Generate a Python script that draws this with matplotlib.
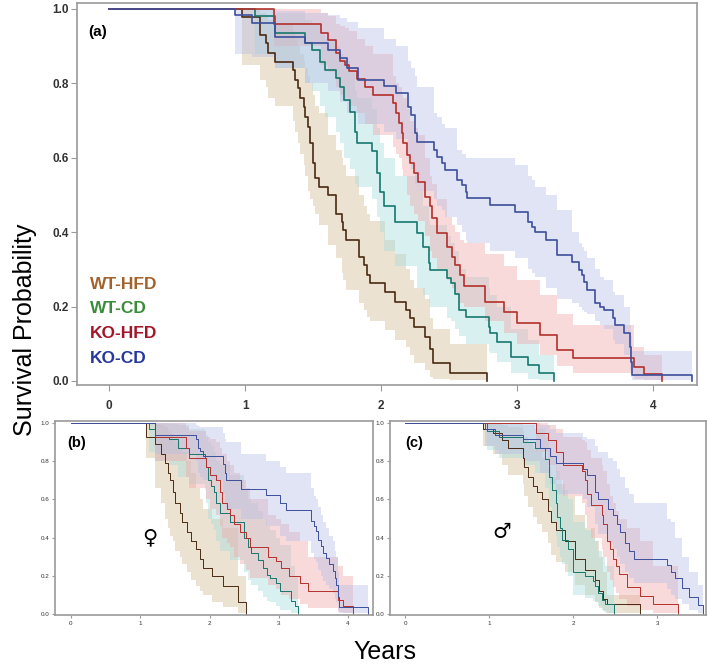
import numpy as np
import matplotlib
matplotlib.use("Agg")
import matplotlib.pyplot as plt

plt.rcParams['font.family'] = ['Liberation Sans', 'DejaVu Sans']

groups = ['WT-HFD', 'WT-CD', 'KO-HFD', 'KO-CD']
label_colors = ['#a3622b', '#3b8c3a', '#a3172b', '#27399a']
line_colors = ['#4a2a12', '#16776c', '#b3302c', '#3c4f9c']
band_colors = ['#d6c4a0', '#a6dcdc', '#f2a3a6', '#b8bfe6']
band_alpha = [0.48, 0.42, 0.4, 0.42]

# ---- panel (a): all mice ----
a_wthfd_t = [0, 0.975, 1.11, 1.15, 1.17, 1.22, 1.355, 1.37, 1.39, 1.40, 1.43, 1.44, 1.46, 1.48, 1.50, 1.515, 1.54, 1.61,
             1.67, 1.71, 1.72, 1.74, 1.84, 1.87, 1.895, 1.92, 2.03, 2.10, 2.18, 2.21, 2.24, 2.32, 2.36, 2.38, 2.507, 2.78]
a_wthfd_s = [1.0, 0.979, 0.93, 0.908, 0.881, 0.858, 0.836, 0.809, 0.787, 0.76, 0.737, 0.71, 0.683, 0.64, 0.586, 0.545,
             0.52, 0.50, 0.45, 0.428, 0.406, 0.379, 0.334, 0.312, 0.285, 0.263, 0.24, 0.213, 0.19, 0.168, 0.146, 0.119,
             0.085, 0.047, 0.02, 0.0]
a_wthfd_lo = [1.0, 0.85, 0.81, 0.79, 0.76, 0.74, 0.7, 0.67, 0.64, 0.61, 0.58, 0.55, 0.51, 0.49, 0.47, 0.45, 0.42, 0.365,
              0.33, 0.29, 0.27, 0.245, 0.21, 0.19, 0.172, 0.16, 0.137, 0.11, 0.09, 0.07, 0.047, 0.03, 0.01, 0.005, 0.003, 0.0]
a_wthfd_hi = [1.0, 1.0, 0.99, 0.98, 0.97, 0.96, 0.94, 0.92, 0.9, 0.88, 0.86, 0.84, 0.82, 0.8, 0.77, 0.74, 0.72, 0.66,
              0.62, 0.6, 0.58, 0.55, 0.5, 0.47, 0.45, 0.43, 0.38, 0.34, 0.3, 0.27, 0.25, 0.22, 0.17, 0.14, 0.1, 0.0]

a_wtcd_t = [0, 1.074, 1.22, 1.44, 1.49, 1.55, 1.59, 1.67, 1.70, 1.73, 1.77, 1.81, 1.82, 1.93, 1.97, 1.99, 2.02, 2.10,
            2.26, 2.31, 2.35, 2.36, 2.48, 2.51, 2.54, 2.57, 2.62, 2.79, 2.80, 2.85, 2.95, 3.08, 3.16, 3.27]
a_wtcd_s = [1.0, 0.98, 0.935, 0.908, 0.89, 0.858, 0.835, 0.814, 0.79, 0.755, 0.724, 0.67, 0.639, 0.617, 0.558, 0.509,
            0.469, 0.428, 0.398, 0.361, 0.317, 0.298, 0.276, 0.263, 0.235, 0.19, 0.173, 0.146, 0.128, 0.105, 0.065,
            0.043, 0.02, 0.0]
a_wtcd_lo = [1.0, 0.88, 0.84, 0.8, 0.78, 0.74, 0.71, 0.67, 0.64, 0.6, 0.57, 0.53, 0.52, 0.49, 0.44, 0.4, 0.35, 0.31,
             0.25, 0.23, 0.21, 0.2, 0.17, 0.16, 0.14, 0.12, 0.1, 0.08, 0.075, 0.05, 0.02, 0.005, 0.003, 0.0]
a_wtcd_hi = [1.0, 1.0, 0.99, 0.97, 0.96, 0.93, 0.92, 0.9, 0.88, 0.86, 0.83, 0.78, 0.76, 0.73, 0.68, 0.64, 0.6, 0.55,
             0.51, 0.47, 0.43, 0.42, 0.39, 0.37, 0.35, 0.3, 0.28, 0.25, 0.23, 0.2, 0.14, 0.11, 0.07, 0.0]

a_kohfd_t = [0, 1.21, 1.56, 1.61, 1.67, 1.70, 1.735, 1.76, 1.82, 1.88, 1.94, 2.09, 2.11, 2.13, 2.15, 2.16, 2.19, 2.21,
             2.24, 2.27, 2.32, 2.36, 2.37, 2.41, 2.48, 2.52, 2.54, 2.58, 2.61, 2.76, 2.90, 3.0, 3.17, 3.29, 3.41, 3.855,
             3.93, 4.06]
a_kohfd_s = [1.0, 0.96, 0.935, 0.917, 0.881, 0.86, 0.85, 0.832, 0.813, 0.79, 0.769, 0.746, 0.72, 0.693, 0.666, 0.64,
             0.607, 0.585, 0.558, 0.536, 0.495, 0.469, 0.437, 0.397, 0.361, 0.334, 0.312, 0.285, 0.254, 0.213, 0.186,
             0.155, 0.124, 0.083, 0.061, 0.038, 0.019, 0.0]
a_kohfd_lo = [1.0, 0.9, 0.85, 0.83, 0.79, 0.77, 0.76, 0.74, 0.72, 0.69, 0.66, 0.63, 0.61, 0.6, 0.57, 0.55, 0.5, 0.47,
              0.45, 0.43, 0.39, 0.35, 0.33, 0.3, 0.27, 0.25, 0.23, 0.21, 0.2, 0.16, 0.13, 0.1, 0.07, 0.04, 0.02, 0.005,
              0.003, 0.0]
a_kohfd_hi = [1.0, 1.0, 0.99, 0.98, 0.96, 0.955, 0.95, 0.94, 0.92, 0.9, 0.88, 0.82, 0.8, 0.79, 0.77, 0.76, 0.73, 0.7,
              0.68, 0.66, 0.6, 0.55, 0.53, 0.49, 0.44, 0.42, 0.4, 0.38, 0.37, 0.34, 0.31, 0.27, 0.23, 0.18, 0.15, 0.09,
              0.07, 0.0]

a_kocd_t = [0, 0.926, 1.05, 1.22, 1.44, 1.61, 1.70, 1.75, 1.83, 2.02, 2.11, 2.20, 2.22, 2.25, 2.26, 2.385, 2.41, 2.445,
            2.47, 2.555, 2.59, 2.62, 2.63, 2.80, 2.985, 3.08, 3.11, 3.13, 3.21, 3.29, 3.40, 3.45, 3.475, 3.49, 3.51,
            3.57, 3.61, 3.635, 3.70, 3.72, 3.78, 3.83, 3.835, 3.84, 4.28]
a_kocd_s = [1.0, 0.984, 0.961, 0.925, 0.908, 0.89, 0.867, 0.84, 0.81, 0.793, 0.773, 0.737, 0.715, 0.666, 0.643, 0.621,
            0.603, 0.585, 0.567, 0.54, 0.527, 0.509, 0.491, 0.473, 0.455, 0.428, 0.415, 0.401, 0.379, 0.339, 0.321,
            0.298, 0.285, 0.267, 0.245, 0.209, 0.2, 0.191, 0.168, 0.151, 0.128, 0.092, 0.05, 0.016, 0.0]
a_kocd_lo = [1.0, 0.88, 0.87, 0.84, 0.8, 0.78, 0.75, 0.72, 0.69, 0.67, 0.65, 0.6, 0.57, 0.53, 0.51, 0.49, 0.47, 0.46,
             0.44, 0.42, 0.4, 0.38, 0.37, 0.35, 0.33, 0.3, 0.29, 0.28, 0.25, 0.22, 0.21, 0.2, 0.19, 0.185, 0.18, 0.16,
             0.15, 0.14, 0.11, 0.1, 0.07, 0.03, 0.01, 0.002, 0.0]
a_kocd_hi = [1.0, 1.0, 1.0, 0.995, 0.99, 0.985, 0.975, 0.965, 0.95, 0.92, 0.9, 0.86, 0.84, 0.82, 0.79, 0.72, 0.71, 0.69,
             0.68, 0.62, 0.61, 0.6, 0.6, 0.6, 0.58, 0.55, 0.54, 0.52, 0.5, 0.46, 0.4, 0.37, 0.36, 0.35, 0.33, 0.3, 0.28,
             0.27, 0.24, 0.23, 0.2, 0.15, 0.12, 0.08, 0.0]

# ---- panel (b): females ----
b_wthfd_t = [0, 1.09, 1.22, 1.30, 1.36, 1.40, 1.43, 1.47, 1.50, 1.58, 1.61, 1.67, 1.74, 1.81, 1.86, 1.91, 2.03, 2.20, 2.41, 2.53]
b_wthfd_s = [1.0, 0.93, 0.89, 0.84, 0.79, 0.74, 0.70, 0.64, 0.58, 0.53, 0.48, 0.43, 0.38, 0.34, 0.29, 0.24, 0.20, 0.145, 0.06, 0.0]
b_wthfd_lo = [1.0, 0.82, 0.66, 0.58, 0.5, 0.45, 0.41, 0.38, 0.33, 0.3, 0.26, 0.22, 0.18, 0.144, 0.12, 0.1, 0.06, 0.035, 0.005, 0.0]
b_wthfd_hi = [1.0, 1.0, 0.995, 0.99, 0.98, 0.96, 0.95, 0.92, 0.9, 0.87, 0.85, 0.8, 0.74, 0.66, 0.6, 0.55, 0.5, 0.45, 0.2, 0.0]

b_wtcd_t = [0, 1.13, 1.21, 1.42, 1.54, 1.71, 1.93, 1.95, 1.98, 2.02, 2.06, 2.10, 2.15, 2.30, 2.50, 2.55, 2.60, 2.70,
            2.77, 2.83, 2.88, 2.96, 3.02, 3.18, 3.24, 3.28]
b_wtcd_s = [1.0, 0.97, 0.93, 0.915, 0.87, 0.84, 0.82, 0.77, 0.70, 0.67, 0.64, 0.58, 0.53, 0.48, 0.40, 0.35, 0.32, 0.28,
            0.24, 0.205, 0.19, 0.16, 0.12, 0.065, 0.04, 0.0]
b_wtcd_lo = [1.0, 0.85, 0.8, 0.78, 0.72, 0.68, 0.65, 0.58, 0.5, 0.47, 0.44, 0.38, 0.33, 0.28, 0.22, 0.18, 0.15, 0.12,
             0.09, 0.07, 0.06, 0.04, 0.02, 0.005, 0.003, 0.0]
b_wtcd_hi = [1.0, 1.0, 1.0, 0.995, 0.99, 0.97, 0.96, 0.94, 0.9, 0.88, 0.85, 0.8, 0.78, 0.73, 0.65, 0.6, 0.58, 0.54, 0.5,
             0.46, 0.44, 0.4, 0.36, 0.25, 0.2, 0.0]

b_kohfd_t = [0, 1.22, 1.66, 1.71, 1.95, 2.0, 2.1, 2.15, 2.18, 2.25, 2.29, 2.36, 2.44, 2.53, 2.58, 2.84, 2.96, 3.03,
             3.15, 3.30, 3.42, 3.86, 3.93, 4.07]
b_kohfd_s = [1.0, 0.93, 0.87, 0.82, 0.77, 0.73, 0.70, 0.64, 0.58, 0.55, 0.52, 0.47, 0.43, 0.40, 0.35, 0.30, 0.275,
             0.24, 0.20, 0.16, 0.12, 0.075, 0.04, 0.0]
b_kohfd_lo = [1.0, 0.8, 0.72, 0.66, 0.6, 0.55, 0.52, 0.46, 0.4, 0.37, 0.35, 0.3, 0.26, 0.23, 0.19, 0.15, 0.13, 0.1,
              0.08, 0.05, 0.03, 0.01, 0.005, 0.0]
b_kohfd_hi = [1.0, 1.0, 0.98, 0.96, 0.93, 0.92, 0.9, 0.87, 0.84, 0.8, 0.78, 0.74, 0.7, 0.66, 0.6, 0.52, 0.5, 0.47,
              0.43, 0.38, 0.3, 0.25, 0.2, 0.0]

b_kocd_t = [0, 1.21, 1.81, 1.83, 1.86, 1.90, 2.19, 2.22, 2.24, 2.45, 2.82, 3.02, 3.11, 3.47, 3.51, 3.54, 3.57, 3.61,
            3.64, 3.68, 3.73, 3.78, 3.81, 3.83, 3.85, 3.87, 4.29]
b_kocd_s = [1.0, 0.94, 0.916, 0.872, 0.854, 0.83, 0.784, 0.74, 0.70, 0.655, 0.626, 0.582, 0.547, 0.486, 0.46, 0.433,
            0.39, 0.354, 0.32, 0.293, 0.26, 0.225, 0.19, 0.15, 0.09, 0.035, 0.0]
b_kocd_lo = [1.0, 0.84, 0.8, 0.74, 0.72, 0.7, 0.63, 0.58, 0.55, 0.5, 0.46, 0.41, 0.38, 0.32, 0.29, 0.27, 0.23, 0.2,
             0.17, 0.15, 0.13, 0.11, 0.08, 0.06, 0.02, 0.005, 0.0]
b_kocd_hi = [1.0, 1.0, 0.99, 0.985, 0.98, 0.98, 0.95, 0.92, 0.9, 0.84, 0.8, 0.77, 0.74, 0.66, 0.62, 0.6, 0.56, 0.52,
             0.48, 0.45, 0.41, 0.38, 0.33, 0.3, 0.22, 0.15, 0.0]

# ---- panel (c): males ----
c_wthfd_t = [0, 0.93, 1.05, 1.15, 1.23, 1.40, 1.42, 1.46, 1.52, 1.57, 1.63, 1.70, 1.74, 1.79, 1.90, 2.02, 2.14, 2.26,
             2.31, 2.36, 2.40, 2.79]
c_wthfd_s = [1.0, 0.97, 0.95, 0.91, 0.87, 0.82, 0.77, 0.72, 0.67, 0.64, 0.60, 0.54, 0.48, 0.44, 0.38, 0.29, 0.23, 0.18,
             0.12, 0.08, 0.05, 0.0]
c_wthfd_lo = [1.0, 0.88, 0.84, 0.78, 0.73, 0.68, 0.62, 0.56, 0.51, 0.47, 0.43, 0.37, 0.31, 0.27, 0.22, 0.15, 0.1, 0.06,
              0.03, 0.015, 0.005, 0.0]
c_wthfd_hi = [1.0, 1.0, 1.0, 0.99, 0.98, 0.96, 0.93, 0.9, 0.87, 0.85, 0.82, 0.77, 0.72, 0.68, 0.62, 0.52, 0.45, 0.38,
              0.3, 0.22, 0.1, 0.0]

c_wtcd_t = [0, 0.97, 1.12, 1.40, 1.55, 1.66, 1.71, 1.75, 1.79, 1.81, 1.84, 1.87, 1.94, 2.0, 2.14, 2.24, 2.26, 2.30,
            2.34, 2.38, 2.49]
c_wtcd_s = [1.0, 0.96, 0.93, 0.90, 0.87, 0.81, 0.72, 0.65, 0.58, 0.51, 0.45, 0.39, 0.34, 0.22, 0.196, 0.17, 0.144,
            0.11, 0.075, 0.05, 0.0]
c_wtcd_lo = [1.0, 0.86, 0.82, 0.78, 0.74, 0.66, 0.56, 0.48, 0.41, 0.35, 0.3, 0.26, 0.2, 0.1, 0.085, 0.07, 0.06, 0.04,
             0.02, 0.005, 0.0]
c_wtcd_hi = [1.0, 1.0, 1.0, 0.99, 0.97, 0.93, 0.87, 0.83, 0.8, 0.75, 0.7, 0.65, 0.6, 0.48, 0.44, 0.4, 0.38, 0.33, 0.3,
             0.25, 0.0]

c_kohfd_t = [0, 1.56, 1.70, 1.80, 1.88, 2.10, 2.14, 2.17, 2.21, 2.34, 2.36, 2.40, 2.44, 2.47, 2.51, 2.55, 2.64, 2.80,
             2.95, 3.25]
c_kohfd_s = [1.0, 0.95, 0.91, 0.85, 0.78, 0.75, 0.70, 0.63, 0.57, 0.52, 0.47, 0.38, 0.34, 0.29, 0.25, 0.21, 0.14,
             0.095, 0.05, 0.0]
c_kohfd_lo = [1.0, 0.85, 0.78, 0.7, 0.62, 0.58, 0.52, 0.45, 0.4, 0.34, 0.3, 0.22, 0.18, 0.14, 0.11, 0.08, 0.04, 0.02,
              0.005, 0.0]
c_kohfd_hi = [1.0, 1.0, 0.99, 0.97, 0.93, 0.91, 0.9, 0.86, 0.82, 0.78, 0.75, 0.68, 0.62, 0.58, 0.54, 0.5, 0.45, 0.38,
              0.25, 0.0]

c_kocd_t = [0, 0.95, 1.07, 1.40, 1.60, 1.72, 1.80, 2.12, 2.16, 2.26, 2.30, 2.41, 2.47, 2.52, 2.56, 2.62, 2.67, 2.72,
            3.12, 3.16, 3.21, 3.30, 3.38, 3.48, 3.55]
c_kocd_s = [1.0, 0.97, 0.94, 0.916, 0.87, 0.83, 0.79, 0.76, 0.73, 0.64, 0.60, 0.55, 0.52, 0.47, 0.43, 0.37, 0.33, 0.29,
            0.255, 0.22, 0.19, 0.135, 0.09, 0.045, 0.0]
c_kocd_lo = [1.0, 0.88, 0.84, 0.8, 0.74, 0.68, 0.63, 0.6, 0.56, 0.47, 0.42, 0.37, 0.34, 0.3, 0.26, 0.22, 0.19, 0.16,
             0.13, 0.1, 0.08, 0.05, 0.02, 0.005, 0.0]
c_kocd_hi = [1.0, 1.0, 1.0, 1.0, 0.99, 0.97, 0.95, 0.93, 0.92, 0.88, 0.85, 0.82, 0.8, 0.76, 0.72, 0.66, 0.63, 0.58,
             0.5, 0.48, 0.4, 0.3, 0.22, 0.15, 0.0]

a_curves = [(a_wthfd_t, a_wthfd_s, a_wthfd_lo, a_wthfd_hi), (a_wtcd_t, a_wtcd_s, a_wtcd_lo, a_wtcd_hi),
            (a_kohfd_t, a_kohfd_s, a_kohfd_lo, a_kohfd_hi), (a_kocd_t, a_kocd_s, a_kocd_lo, a_kocd_hi)]
b_curves = [(b_wthfd_t, b_wthfd_s, b_wthfd_lo, b_wthfd_hi), (b_wtcd_t, b_wtcd_s, b_wtcd_lo, b_wtcd_hi),
            (b_kohfd_t, b_kohfd_s, b_kohfd_lo, b_kohfd_hi), (b_kocd_t, b_kocd_s, b_kocd_lo, b_kocd_hi)]
c_curves = [(c_wthfd_t, c_wthfd_s, c_wthfd_lo, c_wthfd_hi), (c_wtcd_t, c_wtcd_s, c_wtcd_lo, c_wtcd_hi),
            (c_kohfd_t, c_kohfd_s, c_kohfd_lo, c_kohfd_hi), (c_kocd_t, c_kocd_s, c_kocd_lo, c_kocd_hi)]


def draw_km(ax, curves, lw):
    for (t, s, lo, hi), bc, ba in zip(curves, band_colors, band_alpha):
        ax.fill_between(t, lo, hi, step='post', color=bc, alpha=ba, lw=0)
    for (t, s, lo, hi), lc in zip(curves, line_colors):
        ax.step(t, s, where='post', color=lc, lw=lw)


def style_axes(ax, xmax_tick, fs, tick_len):
    for sp in ax.spines.values():
        sp.set_color('#9a9a9a')
        sp.set_linewidth(1.2)
    ax.set_xticks(range(0, xmax_tick + 1))
    ax.set_yticks([0, 0.2, 0.4, 0.6, 0.8, 1.0])
    ax.set_yticklabels(['0.0', '0.2', '0.4', '0.6', '0.8', '1.0'])
    ax.tick_params(length=tick_len, width=0.8, color='#9a9a9a', labelsize=fs, labelcolor='#333333', pad=2)


fig = plt.figure(figsize=(7.09, 6.66), dpi=100)

ax_a = fig.add_axes([0.1086, 0.4219, 0.8745, 0.5736])
draw_km(ax_a, a_curves, 1.2)
ax_a.set_xlim(-0.235, 4.32)
ax_a.set_ylim(-0.011, 1.016)
style_axes(ax_a, 4, 8.5, 4)
for lab in ax_a.get_xticklabels() + ax_a.get_yticklabels():
    lab.set_fontweight('bold')
ax_a.tick_params(axis='x', pad=7)
ax_a.text(0.018, 0.924, '(a)', transform=ax_a.transAxes, fontsize=11, fontweight='bold', va='center', ha='left')
for name, col, yy in zip(groups, label_colors, [0.262, 0.199, 0.136, 0.070]):
    ax_a.text(0.021, yy, name, transform=ax_a.transAxes, color=col, fontsize=12.5, fontweight='bold',
              va='center', ha='left')

ax_b = fig.add_axes([0.0776, 0.0766, 0.4485, 0.2913])
draw_km(ax_b, b_curves, 0.7)
ax_b.set_xlim(-0.23, 4.36)
ax_b.set_ylim(-0.006, 1.012)
style_axes(ax_b, 4, 4.5, 2)
ax_b.text(0.04, 0.887, '(b)', transform=ax_b.transAxes, fontsize=10.5, fontweight='bold', va='center', ha='left')
ax_b.text(0.299, 0.40, '\u2640', transform=ax_b.transAxes, fontsize=15, va='center', ha='center',
          family=['DejaVu Sans'])

ax_c = fig.add_axes([0.550, 0.0766, 0.4457, 0.2913])
draw_km(ax_c, c_curves, 0.7)
ax_c.set_xlim(-0.18, 3.58)
ax_c.set_ylim(-0.006, 1.012)
style_axes(ax_c, 3, 4.5, 2)
ax_c.text(0.047, 0.887, '(c)', transform=ax_c.transAxes, fontsize=10.5, fontweight='bold', va='center', ha='left')
ax_c.text(0.354, 0.43, '\u2642', transform=ax_c.transAxes, fontsize=15, va='center', ha='center',
          family=['DejaVu Sans'])

fig.text(25 / 709, 1 - 330 / 666, 'Survival Probability', rotation=90, fontsize=18, ha='center', va='center')
fig.text(385 / 709, 1 - 652 / 666, 'Years', fontsize=18, ha='center', va='center')

fig.savefig('out.png', dpi=100)
